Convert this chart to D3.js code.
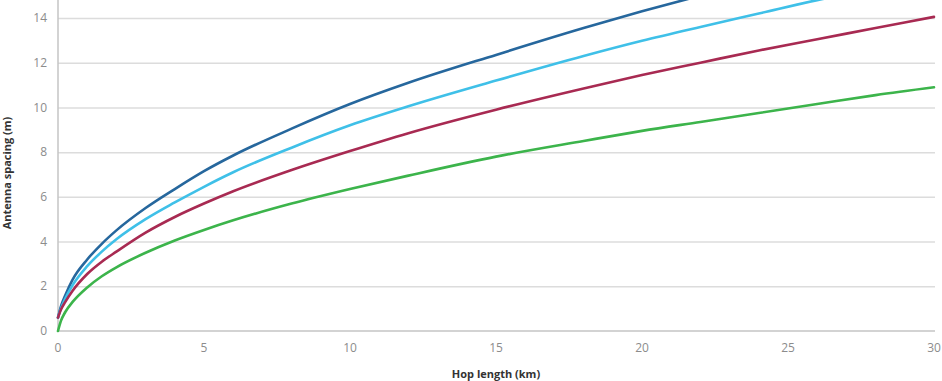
<!DOCTYPE html>
<html>
<head>
<meta charset="utf-8">
<script src="https://cdn.jsdelivr.net/npm/d3@7"></script>
<style>
  body { margin: 0; background: #fff; }
  svg text { font-family: "Open Sans", "DejaVu Sans", sans-serif; }
  .grid line { stroke: #dcdcdc; stroke-width: 1.5; }
  .grid path { display: none; }
  .tick-label { fill: #8c8c8c; font-size: 12px; }
  .axis-title { fill: #333; font-size: 11px; font-weight: 700; }
</style>
</head>
<body>
<div id="chart"></div>
<script>
// hop length (km)
let hops = [0, 0.1, 0.25, 0.5, 1, 1.5, 2, 3, 4, 5, 6, 8, 10, 12, 15, 18, 20, 22, 24, 26, 28, 30];

// antenna spacing (m)
let seriesBlue  = [0.6, 1.1, 1.6, 2.3, 3.2, 3.9, 4.5, 5.5, 6.35, 7.15, 7.85, 9.05, 10.15, 11.1, 12.35, 13.55, 14.3, 15.0, null, null, null, null];
let seriesCyan  = [0.6, 1.0, 1.45, 2.05, 2.9, 3.55, 4.1, 5.0, 5.75, 6.45, 7.1, 8.2, 9.2, 10.05, 11.2, 12.3, 12.98, 13.6, 14.2, 14.8, 15.3, null];
let seriesRed   = [0.6, 0.95, 1.3, 1.8, 2.55, 3.1, 3.55, 4.4, 5.1, 5.7, 6.25, 7.2, 8.05, 8.85, 9.9, 10.85, 11.45, 12.0, 12.55, 13.05, 13.55, 14.05];
let seriesGreen = [0, 0.45, 0.85, 1.3, 1.95, 2.45, 2.85, 3.5, 4.05, 4.52, 4.95, 5.7, 6.35, 6.95, 7.8, 8.5, 8.95, 9.35, 9.75, 10.15, 10.55, 10.9];

let xTicks = [0, 5, 10, 15, 20, 25, 30];
let yTicks = [0, 2, 4, 6, 8, 10, 12, 14];

let series = [
  { color: "#26679d", values: seriesBlue },
  { color: "#3fc0e8", values: seriesCyan },
  { color: "#a82a52", values: seriesRed },
  { color: "#3cb44b", values: seriesGreen }
];

let dim = { width: 942, height: 381 };

let x = d3.scaleLinear().domain([0, 30]).range([58, 934]);
let y = d3.scaleLinear().domain([0, 14]).range([331, 18]);

let svg = d3.select("#chart").append("svg")
    .attr("width", dim.width)
    .attr("height", dim.height);

// horizontal grid
svg.append("g")
    .attr("class", "grid")
    .attr("transform", "translate(" + x(0) + ",0)")
    .call(d3.axisLeft(y).tickValues(yTicks.slice(1)).tickSize(-(x(30) - x(0) + 1)).tickFormat(""));

// axis lines
svg.append("line")
    .attr("x1", x(0)).attr("x2", x(30) + 1)
    .attr("y1", y(0)).attr("y2", y(0))
    .attr("stroke", "#c4c4c4").attr("stroke-width", 1.5);

svg.append("line")
    .attr("x1", x(0)).attr("x2", x(0))
    .attr("y1", 0).attr("y2", y(0))
    .attr("stroke", "#c4c4c4").attr("stroke-width", 1.5);

// tick labels
svg.append("g").selectAll("text")
    .data(yTicks)
  .enter().append("text")
    .attr("class", "tick-label")
    .attr("x", 47)
    .attr("y", d => y(d))
    .attr("dy", "0.35em")
    .attr("text-anchor", "end")
    .text(d => d);

svg.append("g").selectAll("text")
    .data(xTicks)
  .enter().append("text")
    .attr("class", "tick-label")
    .attr("x", d => x(d))
    .attr("y", 352)
    .attr("text-anchor", "middle")
    .text(d => d);

// curves
let line = d3.line()
    .defined(d => d[1] != null)
    .x(d => x(d[0]))
    .y(d => y(d[1]))
    .curve(d3.curveMonotoneX);

svg.append("g").selectAll("path")
    .data(series)
  .enter().append("path")
    .attr("fill", "none")
    .attr("stroke", d => d.color)
    .attr("stroke-width", 2.6)
    .attr("stroke-linecap", "round")
    .attr("d", d => line(hops.map((h, i) => [h, d.values[i]])));

// titles
svg.append("text")
    .attr("class", "axis-title")
    .attr("x", x(15))
    .attr("y", 378)
    .attr("text-anchor", "middle")
    .text("Hop length (km)");

svg.append("text")
    .attr("class", "axis-title")
    .attr("transform", "translate(11," + 173 + ") rotate(-90)")
    .attr("text-anchor", "middle")
    .text("Antenna spacing (m)");
</script>
</body>
</html>
